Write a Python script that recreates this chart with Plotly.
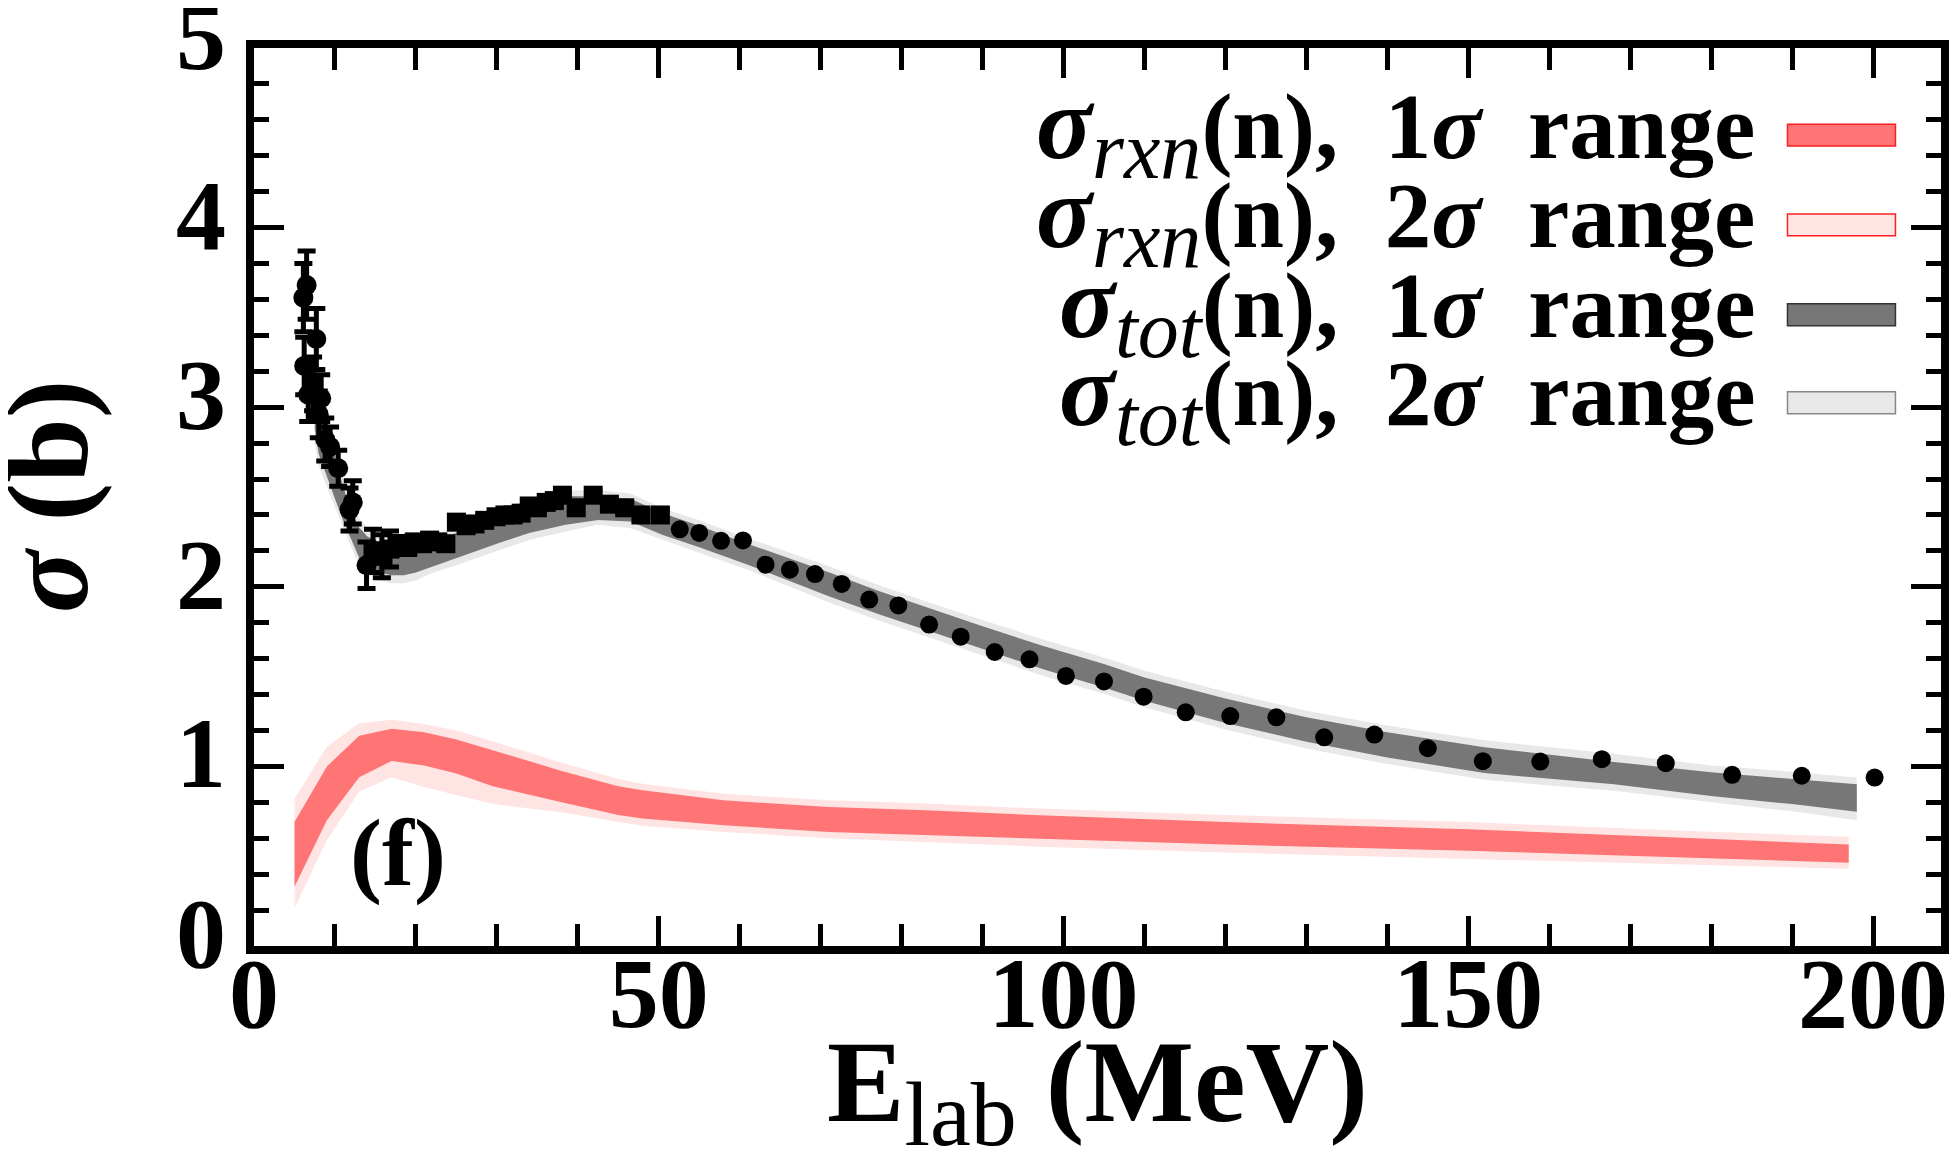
import plotly.graph_objects as go

# sigma_rxn(n) band, 1 and 2 sigma
rxn_energy = [5, 9, 13, 17, 21, 25, 29.5, 38, 45, 48, 58, 71, 83, 97, 120, 150, 175, 197]
rxn_lo2 = [0.21, 0.59, 0.86, 0.94, 0.885, 0.84, 0.79, 0.745, 0.69, 0.67, 0.635, 0.60, 0.58, 0.553, 0.52, 0.485, 0.455, 0.43]
rxn_lo1 = [0.33, 0.70, 0.94, 1.03, 1.005, 0.96, 0.89, 0.80, 0.73, 0.71, 0.672, 0.635, 0.617, 0.599, 0.565, 0.53, 0.495, 0.464]
rxn_hi1 = [0.69, 1.00, 1.17, 1.21, 1.19, 1.15, 1.09, 0.975, 0.89, 0.867, 0.811, 0.774, 0.756, 0.728, 0.69, 0.65, 0.605, 0.565]
rxn_hi2 = [0.82, 1.11, 1.24, 1.26, 1.236, 1.20, 1.14, 1.02, 0.93, 0.904, 0.848, 0.811, 0.793, 0.765, 0.73, 0.69, 0.645, 0.608]

# sigma_tot(n) band, 1 and 2 sigma
tot_energy = [7.5, 8, 9, 10, 11, 12, 13, 14, 15.5, 17, 18.5, 20, 22, 25, 30, 34, 38.5, 42.5, 46.5, 50.5,
              55, 61, 66, 71, 77, 83.5, 90, 97.5, 105, 110, 120, 130, 140, 152, 168, 180, 190, 198]
tot_lo2 = [2.80, 2.67, 2.56, 2.44, 2.33, 2.22, 2.12, 2.07, 2.035, 2.02, 2.02, 2.035, 2.077, 2.12, 2.20, 2.26, 2.308, 2.345, 2.326, 2.262,
           2.19, 2.095, 2.005, 1.914, 1.815, 1.717, 1.62, 1.504, 1.405, 1.33, 1.205, 1.10, 1.013, 0.925, 0.865, 0.80, 0.75, 0.70]
tot_lo1 = [2.88, 2.74, 2.62, 2.49, 2.37, 2.26, 2.16, 2.11, 2.08, 2.065, 2.065, 2.08, 2.114, 2.16, 2.24, 2.30, 2.345, 2.372, 2.363, 2.289,
           2.22, 2.123, 2.035, 1.948, 1.85, 1.754, 1.655, 1.541, 1.44, 1.365, 1.242, 1.137, 1.05, 0.963, 0.90, 0.835, 0.79, 0.747]
tot_hi1 = [3.25, 3.08, 2.90, 2.73, 2.56, 2.42, 2.33, 2.28, 2.25, 2.23, 2.22, 2.23, 2.25, 2.30, 2.385, 2.455, 2.505, 2.502, 2.49, 2.41,
           2.34, 2.239, 2.16, 2.081, 1.98, 1.878, 1.78, 1.670, 1.57, 1.495, 1.378, 1.273, 1.19, 1.107, 1.025, 0.968, 0.93, 0.90]
tot_hi2 = [3.35, 3.15, 2.96, 2.78, 2.61, 2.47, 2.38, 2.33, 2.30, 2.27, 2.26, 2.265, 2.285, 2.335, 2.42, 2.49, 2.535, 2.539, 2.52, 2.437,
           2.37, 2.271, 2.192, 2.114, 2.013, 1.911, 1.815, 1.707, 1.607, 1.532, 1.415, 1.31, 1.228, 1.145, 1.07, 1.005, 0.97, 0.938]

# experimental total cross sections
low_energy = [6.5, 6.1, 7.7, 6.2, 7.3, 6.7, 8.3, 8.0, 8.8, 9.4, 10.4, 11.8, 12.2, 13.9]
low_sigma = [3.68, 3.61, 3.38, 3.23, 3.13, 3.07, 3.05, 2.96, 2.82, 2.78, 2.66, 2.43, 2.47, 2.12]
low_err = [0.19, 0.19, 0.17, 0.16, 0.15, 0.15, 0.13, 0.13, 0.12, 0.11, 0.10, 0.12, 0.12, 0.13]

sq_energy = [14.7, 15.8, 16.8, 18.0, 19.0, 19.8, 20.8, 21.7, 22.7, 23.7, 25.0, 26.2, 27.3, 28.5, 29.9, 31.0, 32.0, 33.0, 34.0,
             35.0, 36.1, 37.1, 38.1, 39.8, 41.9, 43.9, 45.8, 47.8, 50.2]
sq_sigma = [2.20, 2.17, 2.21, 2.23, 2.22, 2.25, 2.24, 2.26, 2.25, 2.24, 2.36, 2.34, 2.35, 2.37, 2.39, 2.40, 2.40, 2.41, 2.45,
            2.44, 2.47, 2.48, 2.51, 2.44, 2.51, 2.46, 2.44, 2.40, 2.40]
sq_err = [0.12, 0.12, 0.1, 0.05, 0.04, 0.03, 0.03, 0.03, 0.03, 0.03, 0.03, 0.03, 0.03, 0.03, 0.03, 0.03, 0.03, 0.03, 0.03,
          0.03, 0.03, 0.03, 0.03, 0.03, 0.03, 0.03, 0.03, 0.03, 0.03]

hi_energy = [52.6, 55.0, 57.7, 60.4, 63.2, 66.2, 69.3, 72.6, 76.0, 79.6, 83.4, 87.3, 91.5, 95.8, 100.3, 105.0, 109.9, 115.1,
             120.6, 126.3, 132.2, 138.4, 145.0, 151.8, 158.9, 166.5, 174.4, 182.6, 191.2, 200.2]
hi_sigma = [2.32, 2.30, 2.256, 2.258, 2.123, 2.095, 2.071, 2.016, 1.929, 1.896, 1.79, 1.722, 1.637, 1.596, 1.504, 1.473, 1.388,
            1.301, 1.28, 1.273, 1.162, 1.177, 1.101, 1.029, 1.027, 1.04, 1.018, 0.953, 0.948, 0.938]

x_ticks = [0, 50, 100, 150, 200]
y_ticks = [0, 1, 2, 3, 4, 5]

SP = '\u2002'
SIG = "<span style='font-size:104px'><i>σ</i></span>"
SUB = "<sub><span style='font-weight:normal;font-size:82px'><i>{}</i></span></sub>"
legend_labels = [
    SIG + SUB.format('rxn') + "(n)," + SP + "1<i>σ</i>" + SP + "range",
    SIG + SUB.format('rxn') + "(n)," + SP + "2<i>σ</i>" + SP + "range",
    SIG + SUB.format('tot') + "(n)," + SP + "1<i>σ</i>" + SP + "range",
    SIG + SUB.format('tot') + "(n)," + SP + "2<i>σ</i>" + SP + "range",
]
legend_fill = ['#ff7575', '#ffe4e4', '#777777', '#e8e8e8']
legend_edge = ['#ff2020', '#ff2020', '#333333', '#888888']

x_title = '<b>E<sub><span style="font-weight:normal;font-size:92px">lab</span></sub> (MeV)</b>'
y_title = '<b><i>σ</i> (b)</b>'

FONT = 'Liberation Serif'

red1 = '#ff7575'
red2 = '#ffe4e4'
gray1 = '#777777'
gray2 = '#e8e8e8'


def band(xs, lo, hi, color):
    return go.Scatter(x=xs + xs[::-1], y=hi + lo[::-1], fill='toself', fillcolor=color,
                      mode='lines', line=dict(width=0, color=color), hoverinfo='skip', showlegend=False)


fig = go.Figure()
fig.add_trace(band(tot_energy, tot_lo2, tot_hi2, gray2))
fig.add_trace(band(tot_energy, tot_lo1, tot_hi1, gray1))
fig.add_trace(band(rxn_energy, rxn_lo2, rxn_hi2, red2))
fig.add_trace(band(rxn_energy, rxn_lo1, rxn_hi1, red1))

err_style = dict(type='data', color='black', thickness=5, width=9)
fig.add_trace(go.Scatter(x=low_energy, y=low_sigma, mode='markers', showlegend=False,
                         marker=dict(symbol='circle', size=20, color='black'),
                         error_y=dict(array=low_err, **err_style)))
fig.add_trace(go.Scatter(x=sq_energy, y=sq_sigma, mode='markers', showlegend=False,
                         marker=dict(symbol='square', size=19, color='black'),
                         error_y=dict(array=sq_err, **err_style)))
fig.add_trace(go.Scatter(x=hi_energy, y=hi_sigma, mode='markers', showlegend=False,
                         marker=dict(symbol='circle', size=18, color='black')))

# hand-made legend: text on the left, swatch on the right
row_y = [0.903, 0.803, 0.703, 0.605]
for lab, yy, fc, ec in zip(legend_labels, row_y, legend_fill, legend_edge):
    fig.add_annotation(x=0.891, y=yy, xref='paper', yref='paper', xanchor='right', yanchor='middle',
                       text='<b>' + lab + '</b>', showarrow=False, yshift=5,
                       font=dict(family=FONT, size=93, color='black'))
    fig.add_shape(type='rect', xref='paper', yref='paper', x0=0.909, x1=0.973, y0=yy - 0.0122, y1=yy + 0.0122,
                  fillcolor=fc, line=dict(color=ec, width=1.5))

fig.add_annotation(x=17.8, y=0.52, xref='x', yref='y', text='<b>(f)</b>', showarrow=False,
                   font=dict(family=FONT, size=96, color='black'))

# axis titles as annotations so they can sit right at the page edges like the original
fig.add_annotation(x=0.5, y=0, xref='paper', yref='paper', xanchor='center', yanchor='top',
                   yshift=-70, text=x_title, showarrow=False,
                   font=dict(family=FONT, size=116, color='black'))
fig.add_annotation(x=0, y=0.5, xref='paper', yref='paper', xanchor='center', yanchor='middle',
                   xshift=-206, textangle=-90, text=y_title, showarrow=False,
                   font=dict(family=FONT, size=116, color='black'))

axis_common = dict(showgrid=False, zeroline=False, showline=True, linecolor='black', linewidth=8,
                   mirror='ticks', ticks='inside', tickcolor='black', tickwidth=5, ticklen=30,
                   ticklabeloverflow='allow',
                   tickfont=dict(family=FONT, size=100, color='black', weight='bold'))

fig.update_xaxes(range=[0, 208.4], tickvals=x_ticks, ticktext=[str(v) for v in x_ticks],
                 minor=dict(dtick=10, ticks='inside', ticklen=22, tickwidth=5, tickcolor='black'),
                 ticklabelposition='outside', ticklabelstandoff=-47,
                 **axis_common)
fig.update_yaxes(range=[0, 5], tickvals=y_ticks, ticktext=[str(v) for v in y_ticks],
                 minor=dict(dtick=0.2, ticks='inside', ticklen=15, tickwidth=5, tickcolor='black'),
                 ticklabelshift=-14,
                 **axis_common)

# the page adds an 8 px body margin, so the figure is sized to fit the 1957x1156 window
fig.update_layout(width=1941, height=1138, margin=dict(l=246, r=8, t=40, b=200, autoexpand=False),
                  paper_bgcolor='white', plot_bgcolor='white')

fig.write_html("out.html")
